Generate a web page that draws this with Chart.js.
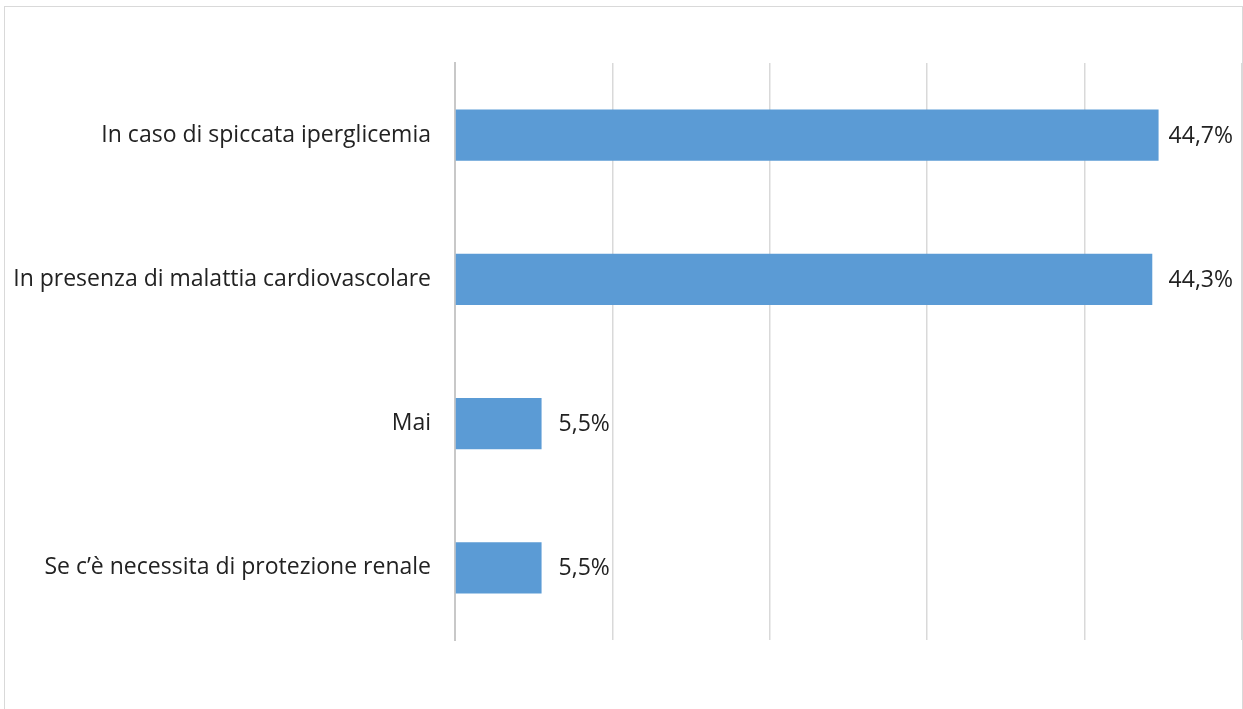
<!DOCTYPE html>
<html>
<head>
<meta charset="utf-8">
<script src="https://cdn.jsdelivr.net/npm/chart.js@4.4.0/dist/chart.umd.min.js"></script>
<style>
  html, body { margin: 0; padding: 0; background: #fff; }
  #frame { position: absolute; left: 4px; top: 6px; width: 1237px; height: 720px; border: 1px solid #d9d9d9; }
  #wrap { position: absolute; left: 0; top: 0; width: 1243px; height: 709px; }
</style>
</head>
<body>
<div id="frame"></div>
<div id="wrap"><canvas id="canvas"></canvas></div>
<script>
const categories = [
    'In caso di spiccata iperglicemia',
    'In presenza di malattia cardiovascolare',
    'Mai',
    'Se c\u2019\u00e8 necessita di protezione renale'
];
const values = [44.7, 44.3, 5.5, 5.5];
const xMax = 50;
const xStep = 10;

const fontFamily = '"Open Sans", "Noto Sans", sans-serif';
const fontSize = 23;

// draws the value next to each bar, Excel style "44,7%"
const barLabels = {
    id: 'barLabels',
    afterDatasetsDraw(chart) {
        const ctx = chart.ctx;
        ctx.save();
        ctx.font = fontSize + 'px ' + fontFamily;
        ctx.fillStyle = '#222';
        ctx.textAlign = 'left';
        ctx.textBaseline = 'middle';
        chart.getDatasetMeta(0).data.forEach((bar, i) => {
            const txt = values[i].toFixed(1).replace('.', ',') + '%';
            const w = ctx.measureText(txt).width;
            // keep the label inside the frame, like Excel does
            const x = Math.min(bar.x + 17, chart.chartArea.right - w - 9);
            ctx.fillText(txt, x, bar.y + 1);
        });
        ctx.restore();
    }
};

const myChart = new Chart(
    document.getElementById('canvas'),
    {
        type: 'bar',
        data: {
            labels: categories,
            datasets: [
                {
                    data: values,
                    backgroundColor: '#5b9bd5',
                    borderWidth: 0,
                    categoryPercentage: 1,
                    barPercentage: 0.354
                }
            ]
        },
        options: {
            indexAxis: 'y',
            responsive: true,
            maintainAspectRatio: false,
            animation: false,
            layout: {
                padding: { left: 0, right: 1, top: 63, bottom: 69 }
            },
            plugins: {
                legend: { display: false },
                tooltip: { enabled: false }
            },
            scales: {
                x: {
                    min: 0,
                    max: xMax,
                    ticks: { display: false, stepSize: xStep },
                    grid: { color: '#d9d9d9', lineWidth: 1.5, drawTicks: false },
                    border: { display: false },
                    afterFit: (s) => { s.height = 0; }
                },
                y: {
                    grid: { display: false, drawTicks: false },
                    border: { color: '#c8c8c8', width: 2 },
                    ticks: {
                        color: '#222',
                        padding: 24,
                        font: { family: fontFamily, size: fontSize }
                    },
                    afterFit: (s) => { s.width = 455; }
                }
            }
        },
        plugins: [barLabels]
    }
);
</script>
</body>
</html>
